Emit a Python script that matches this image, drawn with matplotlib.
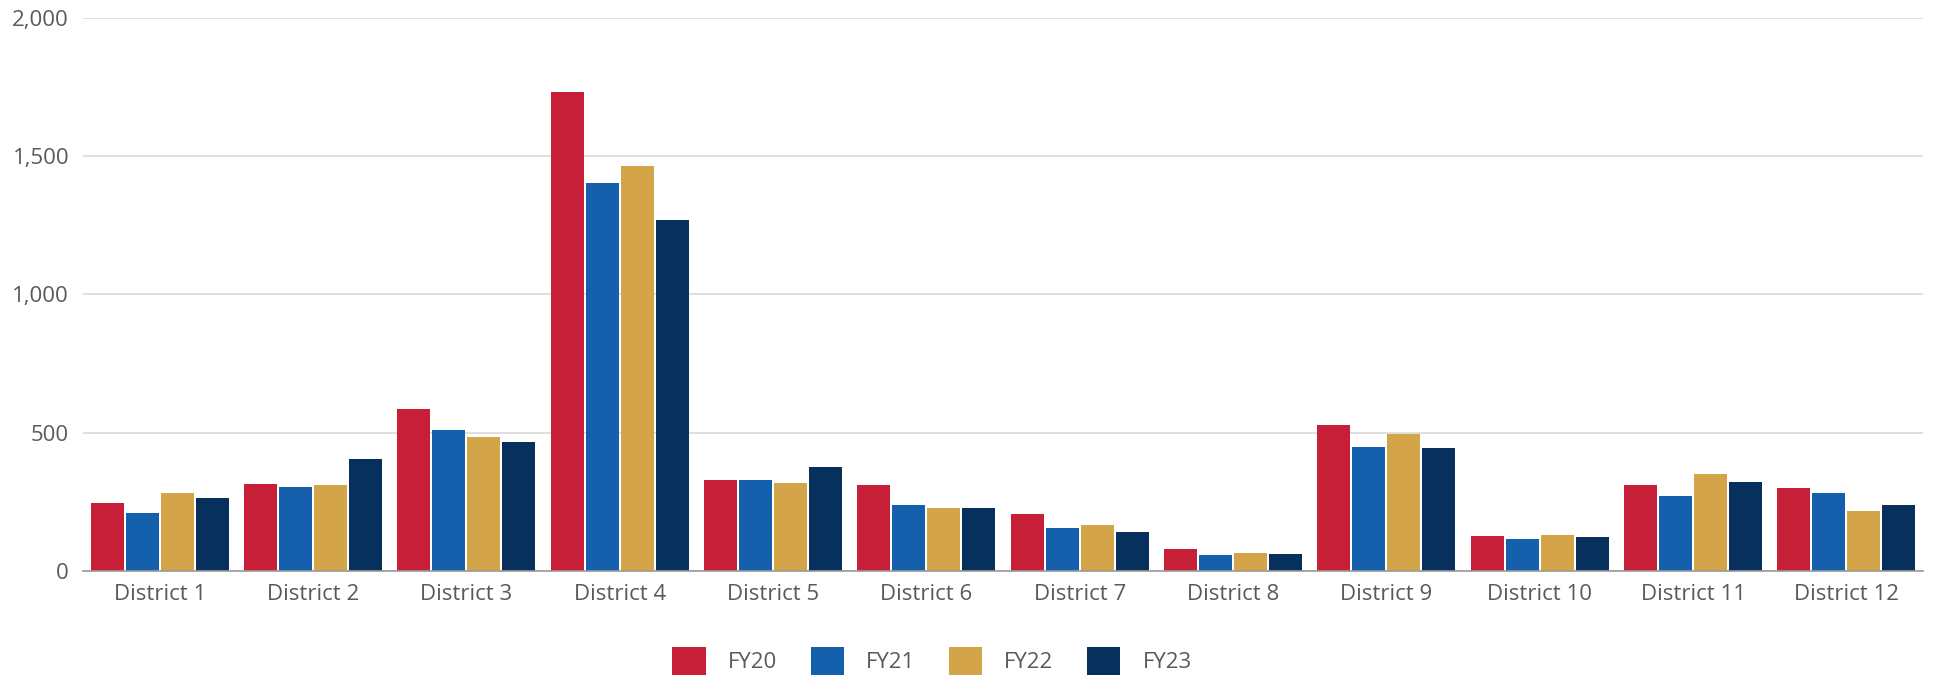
import matplotlib
matplotlib.use("Agg")
import matplotlib.pyplot as plt
import numpy as np

# data
districts = [f"District {i}" for i in range(1, 13)]
fy20 = [247, 316, 585, 1732, 329, 311, 207, 79, 527, 125, 311, 299]
fy21 = [209, 305, 508, 1402, 330, 238, 154, 57, 449, 114, 271, 282]
fy22 = [283, 312, 483, 1463, 318, 228, 165, 66, 497, 129, 352, 217]
fy23 = [263, 406, 467, 1268, 376, 229, 140, 61, 446, 122, 320, 237]
series_names = ["FY20", "FY21", "FY22", "FY23"]
yticks = [0, 500, 1000, 1500, 2000]

colors = ["#C61F37", "#1560AC", "#D4A548", "#08305C"]
text_color = "#5a5a5a"

plt.rcParams["font.family"] = ["Open Sans", "DejaVu Sans"]

fig = plt.figure(figsize=(19.36, 6.8), dpi=100)
ax = fig.add_axes([83 / 1936, 1 - 571 / 680, (1923 - 83) / 1936, (571 - 17.7) / 680])

x = np.arange(len(districts))
step = 0.228
width = 0.215
for i, (name, vals) in enumerate(zip(series_names, [fy20, fy21, fy22, fy23])):
    ax.bar(x + (i - 1.5) * step, vals, width=width, color=colors[i],
           label=name, zorder=3)

ax.set_xlim(-0.5, len(districts) - 0.5)
ax.set_ylim(0, 2000)
ax.set_yticks(yticks)
ax.set_yticklabels([f"{v:,}" for v in yticks])
ax.set_xticks(x)
ax.set_xticklabels(districts)

ax.grid(axis="y", color="#d9d9d9", linewidth=1.2, zorder=0)
ax.set_axisbelow(True)
for side in ["top", "right", "left"]:
    ax.spines[side].set_visible(False)
ax.spines["bottom"].set_color("#9a9a9a")
ax.spines["bottom"].set_linewidth(1.2)
ax.spines["bottom"].set_zorder(4)

ax.tick_params(axis="both", length=0, labelsize=16, labelcolor=text_color)
ax.tick_params(axis="y", pad=10)
ax.tick_params(axis="x", pad=9)

fig.legend(loc="center", bbox_to_anchor=(932 / 1936, 19 / 680), ncol=4,
           frameon=False, fontsize=16, labelcolor=text_color,
           handlelength=1.5, handleheight=1.5, handletextpad=1.0,
           columnspacing=1.5, borderpad=0, borderaxespad=0)

fig.savefig("out.png", dpi=100)
plt.close(fig)
